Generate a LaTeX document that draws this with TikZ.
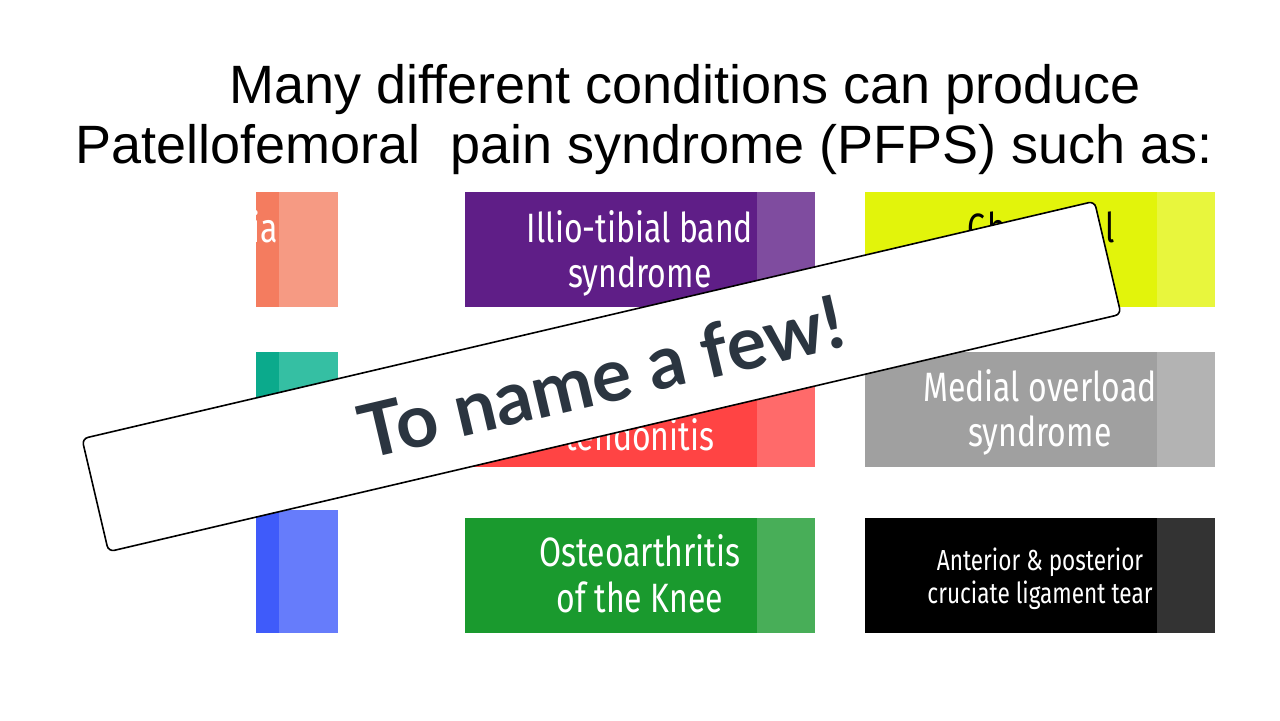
\documentclass[tikz,border=0pt]{standalone}
\usepackage{fontspec}
\setmainfont{Liberation Sans}
\newfontfamily\boxfont[FakeStretch=0.78]{Fira Sans}
\newfontfamily\banfont{Lato}
\definecolor{salD}{HTML}{F47C5F}\definecolor{salL}{HTML}{F69A83}
\definecolor{teaD}{HTML}{0BAA8C}\definecolor{teaL}{HTML}{35BFA3}
\definecolor{bluD}{HTML}{3F5BFA}\definecolor{bluL}{HTML}{667CFB}
\definecolor{purD}{HTML}{5F1E87}\definecolor{purL}{HTML}{7F4C9F}
\definecolor{redD}{HTML}{FF4444}\definecolor{redL}{HTML}{FF6A6A}
\definecolor{greD}{HTML}{1A9A2E}\definecolor{greL}{HTML}{48AE58}
\definecolor{yelD}{HTML}{E2F40B}\definecolor{yelL}{HTML}{E8F63D}
\definecolor{graD}{HTML}{A0A0A0}\definecolor{graL}{HTML}{B3B3B3}
\definecolor{blkL}{HTML}{333333}
\definecolor{slate}{HTML}{2B3540}
\newcommand\colbox[7]{%
  \fill[#6] (#1,#2) rectangle (#5,#4);
  \fill[#7] (#5,#2) rectangle (#3,#4);}
\begin{document}
\begin{tikzpicture}[x=0.5pt,y=-0.5pt,
  boxtxt/.style={anchor=base,text=white,inner sep=0pt,font=\boxfont\fontsize{20.5}{24}\selectfont},
  smalltxt/.style={anchor=base,text=white,inner sep=0pt,font=\boxfont\fontsize{14.5}{17}\selectfont},
  titletxt/.style={anchor=base west,inner sep=0pt,font=\fontsize{27}{31}\selectfont}]
\useasboundingbox (0,0) rectangle (1280,720);
\fill[white] (0,0) rectangle (1280,720);
% left column (partly shown)
\colbox{256}{192}{338}{307}{279}{salD}{salL}
\colbox{256}{352}{338}{467}{279}{teaD}{teaL}
\colbox{256}{510}{338}{633}{279}{bluD}{bluL}
% middle column
\colbox{465}{192}{815}{307}{757}{purD}{purL}
\colbox{465}{352}{815}{467}{757}{redD}{redL}
\colbox{465}{518}{815}{633}{757}{greD}{greL}
% right column
\colbox{865}{192}{1215}{307}{1157}{yelD}{yelL}
\colbox{865}{352}{1215}{467}{1157}{graD}{graL}
\colbox{865}{518}{1215}{633}{1157}{black}{blkL}
% box texts
\node[boxtxt,anchor=base east] (t1) at (278,242) {ia};
\node[boxtxt] (t2a) at (640,242) {Illio-tibial band};
\node[boxtxt] (t2b) at (640,287) {syndrome};
\node[boxtxt] (t3) at (640,450) {tendonitis};
\node[boxtxt] (t4a) at (640,566) {Osteoarthritis};
\node[boxtxt] (t4b) at (640,612) {of the Knee};
\node[boxtxt,text=black,font=\boxfont\addfontfeature{LetterSpace=6}\fontsize{20.5}{24}\selectfont] (t5) at (1041,242) {Chondral};
\node[boxtxt] (t6a) at (1040,401) {Medial overload};
\node[boxtxt] (t6b) at (1040,446) {syndrome};
\node[smalltxt] (t7a) at (1040,570) {Anterior \& posterior};
\node[smalltxt] (t7b) at (1040,603) {cruciate ligament tear};
% banner
\node[draw=black,line width=0.8pt,fill=white,rounded corners=3pt,
  minimum width=520pt,minimum height=58pt,inner sep=0pt,rotate=13.2] (banner) at (601.5,376.5) {};
\node[rotate=13.2,text=slate,inner sep=0pt,font=\banfont\bfseries\fontsize{37}{40}\selectfont] (bantxt) at (banner.center) {To name a few!};
% title
\node[titletxt] (title1) at (229,103) {Many different conditions can produce};
\node[titletxt] (title2) at (75,163) {Patellofemoral\ \ pain syndrome (PFPS) such as:};
\end{tikzpicture}
\end{document}
